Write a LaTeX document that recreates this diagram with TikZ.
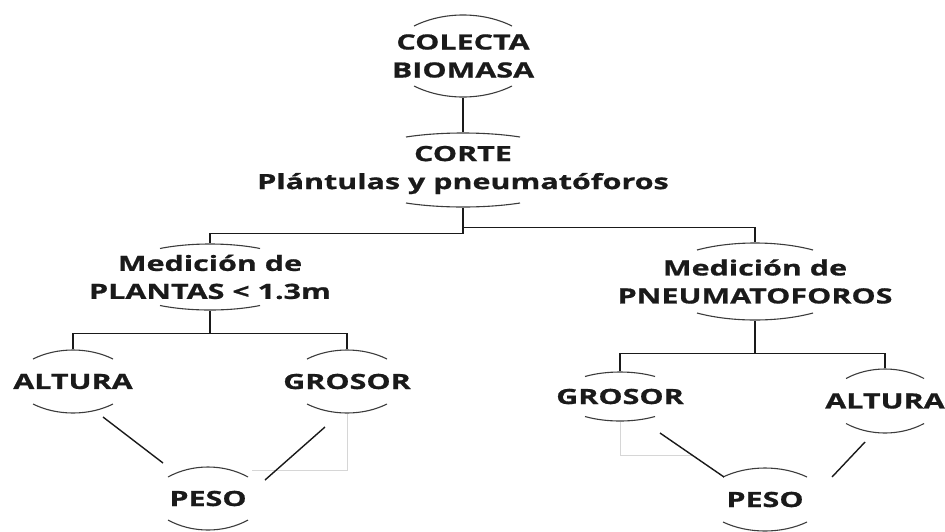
\documentclass[tikz,border=0pt]{standalone}
\usepackage{fontspec}
\newfontfamily\labelfont{Open Sans}[FakeStretch=1.45, BoldFeatures={FakeBold=0.8}]
\usetikzlibrary{calc}
\definecolor{inkc}{HTML}{1A1A1A}
\definecolor{arcc}{HTML}{3C3C3C}
\definecolor{ghostc}{HTML}{D6D6D6}
\tikzset{
  lbl/.style={font=\labelfont\bfseries\fontsize{21}{28}\selectfont, text=inkc, align=center},
  arcline/.style={draw=arcc, line width=1.1pt},
  conn/.style={draw=inkc, line width=1.4pt},
  ghost/.style={draw=ghostc, line width=1pt},
  capnode/.style n args={3}{lbl, inner sep=0pt,
    minimum width=2*#1pt+2pt, minimum height=2*#2pt+2pt,
    path picture={
      \draw[arcline] ([shift={(-#1pt,#2pt-#3pt)}]path picture bounding box.center)
        .. controls +(0.6*#1pt,4/3*#3pt) and +(-0.6*#1pt,4/3*#3pt) ..
        ([shift={(#1pt,#2pt-#3pt)}]path picture bounding box.center);
      \draw[arcline] ([shift={(-#1pt,-#2pt+#3pt)}]path picture bounding box.center)
        .. controls +(0.6*#1pt,-4/3*#3pt) and +(-0.6*#1pt,-4/3*#3pt) ..
        ([shift={(#1pt,-#2pt+#3pt)}]path picture bounding box.center);
    }},
}
\begin{document}
\begin{tikzpicture}[x=1pt,y=1pt]
\useasboundingbox[fill=white] (0,0) rectangle (945,-531);

\node[capnode={49}{41}{11}]    (colecta) at (463,-56)    {COLECTA\\BIOMASA};
\node[capnode={57}{37}{4}]     (corte)   at (463,-170)   {CORTE\\Plántulas y pneumatóforos};
\node[capnode={50}{33}{4.5}]   (med1)    at (210,-277)   {Medición de\\PLANTAS < 1.3m};
\node[capnode={58}{38.5}{7}]   (med2)    at (755,-281.5) {Medición de\\PNEUMATOFOROS};
\node[capnode={40}{31.5}{9}]   (alt1)    at (73,-381.5)  {ALTURA};
\node[capnode={40}{31.5}{9}]   (gro1)    at (347,-381.5) {GROSOR};
\node[capnode={40}{31.5}{10}]  (peso1)   at (208,-498.5) {PESO};
\node[capnode={35}{24.5}{4.5}] (gro2)    at (620,-396.5) {GROSOR};
\node[capnode={39}{32}{9.5}]   (alt2)    at (885,-401)   {ALTURA};
\node[capnode={42}{31.5}{9}]   (peso2)   at (765,-499.5) {PESO};

% ghost connectors
\draw[ghost] (gro1.south) |- ([shift={(44,28.5)}]peso1.center);
\draw[ghost] (gro2.south) |- ([shift={(-72,44.5)}]peso2.center);

% tree connectors
\draw[conn] (colecta.south) -- (corte.north);
\draw[conn] (corte.south) -- ++(0,-25) -| (med1.north);
\draw[conn] (corte.south) -- ++(0,-19) -| (med2.north);
\draw[conn] (med1.south) -- ++(0,-22) coordinate (m1) -| (alt1.north);
\draw[conn] (m1) -| (gro1.north);
\draw[conn] (med2.south) -- ++(0,-32) coordinate (m2) -| (gro2.north);
\draw[conn] (m2) -| (alt2.north);

% diagonal connectors
\draw[conn] ([shift={(30,-35.5)}]alt1.center) -- ([shift={(-45,35.5)}]peso1.center);
\draw[conn] ([shift={(-22,-45.5)}]gro1.center) -- ([shift={(57,18.5)}]peso1.center);
\draw[conn] ([shift={(40,-36.5)}]gro2.center) -- ([shift={(-41,22.5)}]peso2.center);
\draw[conn] ([shift={(-20,-41)}]alt2.center) -- ([shift={(67,22.5)}]peso2.center);
\end{tikzpicture}
\end{document}
